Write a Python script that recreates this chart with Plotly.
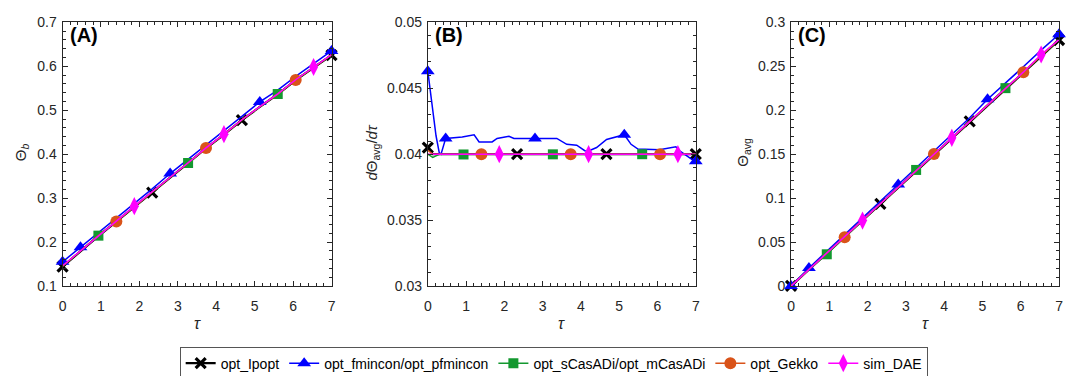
import plotly.graph_objects as go

# ---------------- data ----------------
tau = [0, 0.467, 0.933, 1.4, 1.867, 2.333, 2.8, 3.267, 3.733, 4.2, 4.667, 5.133, 5.6, 6.067, 6.533, 7]

series_names = ["opt_Ipopt", "opt_fmincon/opt_pfmincon", "opt_sCasADi/opt_mCasADi", "opt_Gekko", "sim_DAE"]

# Panel A : Theta_b
a_ipopt = [0.144, 0.179, 0.2135, 0.2465, 0.2805, 0.3125, 0.3465, 0.3795, 0.4135, 0.4445, 0.4775, 0.5075, 0.5365, 0.5685, 0.5975, 0.6255]
a_fmincon = [0.155, 0.188, 0.222, 0.255, 0.289, 0.321, 0.356, 0.388, 0.421, 0.452, 0.486, 0.519, 0.546, 0.577, 0.606, 0.635]
a_casadi = [0.145, 0.180, 0.2146, 0.247, 0.281, 0.313, 0.347, 0.380, 0.414, 0.445, 0.478, 0.508, 0.537, 0.569, 0.598, 0.626]
a_gekko = [0.145, 0.180, 0.2145, 0.247, 0.281, 0.313, 0.347, 0.380, 0.414, 0.445, 0.478, 0.508, 0.537, 0.569, 0.598, 0.626]
a_dae = [0.146, 0.1805, 0.215, 0.2475, 0.2817, 0.3135, 0.3475, 0.3805, 0.4145, 0.4455, 0.4785, 0.5085, 0.5375, 0.5695, 0.5985, 0.6265]

# Panel B : dTheta_avg/dtau
tau_b = [0, 0.13, 0.3, 0.467, 0.933, 1.4, 1.867, 2.333, 2.8, 3.267, 3.733, 4.2, 4.667, 5.133, 5.6, 6.067, 6.533, 7]
b_ipopt = [0.0405, 0.04, 0.04, 0.04, 0.04, 0.04, 0.04, 0.04, 0.04, 0.04, 0.04, 0.04, 0.04, 0.04, 0.04, 0.04, 0.04, 0.0400]
b_casadi = [0.0400, 0.03976, 0.04, 0.04, 0.03998, 0.04, 0.04, 0.04, 0.04, 0.03999, 0.04, 0.04, 0.04, 0.04, 0.04, 0.04, 0.04, 0.04]
b_gekko = [0.0403, 0.04, 0.04, 0.04, 0.04, 0.04, 0.04, 0.04, 0.04, 0.04, 0.04, 0.04, 0.04, 0.04, 0.04, 0.04, 0.04, 0.04]
b_dae = [0.0400, 0.0400, 0.0400, 0.0400, 0.0400, 0.0400, 0.0400, 0.0400, 0.0400, 0.0400, 0.0400, 0.0400, 0.0400, 0.0400, 0.0400, 0.0400, 0.0400, 0.0400]
tau_b_fmincon = [0, 0.1, 0.215, 0.3, 0.345, 0.467, 0.9, 1.21, 1.34, 1.68, 1.81, 2.12, 2.25, 2.8, 3.37, 3.63, 3.89, 4.1, 4.2,
                 4.41, 4.67, 5.133, 5.31, 5.49, 6.05, 6.48, 6.57, 6.87, 7]
b_fmincon = [0.0463, 0.0438, 0.0414, 0.0401, 0.0400, 0.0412, 0.0413, 0.04148, 0.04093, 0.04093, 0.0412, 0.04136, 0.04119,
             0.0412, 0.0412, 0.04075, 0.04068, 0.04027, 0.04025, 0.04051, 0.04112, 0.04148, 0.04075, 0.04039, 0.04034,
             0.04056, 0.04027, 0.03966, 0.03947]

# Panel C : Theta_avg
c_ipopt = [0, 0.0187, 0.0373, 0.056, 0.0747, 0.0935, 0.112, 0.1307, 0.1495, 0.168, 0.1875, 0.2055, 0.2245, 0.243, 0.2615, 0.280]
c_fmincon = [0, 0.0205, 0.0395, 0.0585, 0.0775, 0.0965, 0.1155, 0.1345, 0.1535, 0.1725, 0.1915, 0.2125, 0.2305, 0.2495, 0.2685, 0.2865]
c_casadi = [0, 0.0188, 0.0361, 0.0558, 0.0747, 0.0936, 0.1125, 0.1321, 0.150, 0.1685, 0.1877, 0.2062, 0.2252, 0.2434, 0.262, 0.2805]
c_gekko = [0, 0.0188, 0.0372, 0.0555, 0.0747, 0.0936, 0.1125, 0.1312, 0.1503, 0.1685, 0.1877, 0.2062, 0.2248, 0.2434, 0.262, 0.2805]
c_dae = [0, 0.0189, 0.0373, 0.0558, 0.0745, 0.0936, 0.1125, 0.1312, 0.150, 0.1686, 0.1877, 0.2062, 0.2248, 0.2434, 0.2635, 0.2805]

# marker positions (tau) of each series
mk_ipopt = [0, 2.333, 4.667, 7]
mk_fmincon = [0, 0.467, 2.8, 5.133, 7]
mk_casadi = [0.933, 3.267, 5.6]
mk_gekko = [1.4, 3.733, 6.067]
mk_dae = [1.867, 4.2, 6.533]

x_ticks = [0, 1, 2, 3, 4, 5, 6, 7]
a_ticks = [0.1, 0.2, 0.3, 0.4, 0.5, 0.6, 0.7]
a_ticktext = ["0.1", "0.2", "0.3", "0.4", "0.5", "0.6", "0.7"]
b_ticks = [0.03, 0.035, 0.04, 0.045, 0.05]
b_ticktext = ["0.03", "0.035", "0.04", "0.045", "0.05"]
c_ticks = [0, 0.05, 0.1, 0.15, 0.2, 0.25, 0.3]
c_ticktext = ["0", "0.05", "0.1", "0.15", "0.2", "0.25", "0.3"]

# ---------------- styles ----------------
styles = [
    dict(color="#000000", width=2.2, symbol="x-thin", size=10, mlw=3.2),
    dict(color="#0000FF", width=1.5, symbol="triangle-up", size=12, mlw=0),
    dict(color="#13982F", width=1.5, symbol="square", size=10, mlw=0),
    dict(color="#D95319", width=1.5, symbol="circle", size=12, mlw=0),
    dict(color="#FF00FF", width=1.5, symbol="diamond-tall", size=13, mlw=0),
]

# figure is taller than the 376 px window so the legend box can run past the bottom edge
W, H = 1067, 420
def px_x(p): return p / W
def px_y(p): return 1 - p / H

panels = [
    dict(xa="x", ya="y", xdom=[px_x(59), px_x(330)],
         data=[(tau, a_ipopt), (tau, a_fmincon), (tau, a_casadi), (tau, a_gekko), (tau, a_dae)]),
    dict(xa="x2", ya="y2", xdom=[px_x(427), px_x(697)],
         data=[(tau_b, b_ipopt), (tau_b_fmincon, b_fmincon), (tau_b, b_casadi), (tau_b, b_gekko), (tau_b, b_dae)]),
    dict(xa="x3", ya="y3", xdom=[px_x(793), px_x(1063)],
         data=[(tau, c_ipopt), (tau, c_fmincon), (tau, c_casadi), (tau, c_gekko), (tau, c_dae)]),
]
markers = [mk_ipopt, mk_fmincon, mk_casadi, mk_gekko, mk_dae]

fig = go.Figure()

for p in panels:
    for k, (xs, ys) in enumerate(p["data"]):
        st = styles[k]
        fig.add_trace(go.Scatter(x=xs, y=ys, mode="lines", xaxis=p["xa"], yaxis=p["ya"],
                                 line=dict(color=st["color"], width=st["width"]),
                                 showlegend=False, hoverinfo="skip", cliponaxis=False))
        mx, my = [], []
        for t in markers[k]:
            for xv, yv in zip(xs, ys):
                if abs(xv - t) < 1e-6:
                    mx.append(xv); my.append(yv)
        fig.add_trace(go.Scatter(x=mx, y=my, mode="markers", xaxis=p["xa"], yaxis=p["ya"],
                                 marker=dict(color=st["color"], symbol=st["symbol"], size=st["size"],
                                             line=dict(color=st["color"], width=st["mlw"])),
                                 showlegend=False, hoverinfo="skip", cliponaxis=False))

# legend entries
for k, name in enumerate(series_names):
    st = styles[k]
    fig.add_trace(go.Scatter(x=[None], y=[None], mode="lines+markers", name=name,
                             line=dict(color=st["color"], width=st["width"]),
                             marker=dict(color=st["color"], symbol=st["symbol"], size=st["size"],
                                         line=dict(color=st["color"], width=st["mlw"]))))

FONT = "Liberation Sans, Arial, Helvetica, sans-serif"
AX = "#262626"

def xaxis(dom, anchor):
    return dict(domain=dom, anchor=anchor, range=[0, 7], tickvals=x_ticks, ticktext=[str(v) for v in x_ticks],
                ticks="inside", ticklen=5, tickcolor=AX, tickwidth=1, showline=True, linecolor=AX, linewidth=1,
                mirror="allticks", showgrid=False, zeroline=False,
                minor=dict(dtick=0.2, ticks="inside", ticklen=3, tickcolor=AX, showgrid=False),
                tickfont=dict(family=FONT, size=14, color=AX), ticklabelstandoff=7)

def yaxis(rng, tv, tt, mdt, anchor):
    return dict(domain=[px_y(289), px_y(15)], anchor=anchor, range=rng, tickvals=tv, ticktext=tt,
                ticks="inside", ticklen=5, tickcolor=AX, tickwidth=1, showline=True, linecolor=AX, linewidth=1,
                mirror="allticks", showgrid=False, zeroline=False,
                minor=dict(dtick=mdt, ticks="inside", ticklen=3, tickcolor=AX, showgrid=False),
                tickfont=dict(family=FONT, size=14, color=AX), ticklabelstandoff=2)

annotations = []
for lbl, x0 in [("(A)", 64), ("(B)", 432), ("(C)", 798)]:
    annotations.append(dict(text="<b>" + lbl + "</b>", x=px_x(x0), y=px_y(28), xref="paper", yref="paper",
                            xanchor="left", yanchor="middle", showarrow=False,
                            font=dict(family=FONT, size=20, color="#000000")))
for xc in [(59 + 330) / 2, (427 + 697) / 2, (793 + 1063) / 2]:
    annotations.append(dict(text="<i>τ</i>", x=px_x(xc), y=px_y(328), xref="paper", yref="paper",
                            xanchor="center", yanchor="middle", showarrow=False,
                            font=dict(family=FONT, size=16, color=AX)))
for txt, xc in [("Θ<sub><i>b</i></sub>", 17), ("<i>d</i>Θ<sub>avg</sub>/<i>dτ</i>", 371), ("Θ<sub>avg</sub>", 745)]:
    annotations.append(dict(text=txt, x=px_x(xc), y=px_y(150), xref="paper", yref="paper",
                            xanchor="center", yanchor="middle", showarrow=False, textangle=-90,
                            font=dict(family=FONT, size=15, color=AX)))

fig.update_layout(
    width=W, height=H, autosize=False,
    margin=dict(l=0, r=0, t=0, b=0),
    paper_bgcolor="white", plot_bgcolor="white",
    xaxis=xaxis(panels[0]["xdom"], "y"),
    xaxis2=xaxis(panels[1]["xdom"], "y2"),
    xaxis3=xaxis(panels[2]["xdom"], "y3"),
    yaxis=yaxis([0.1, 0.7], a_ticks, a_ticktext, 0.02, "x"),
    yaxis2=yaxis([0.03, 0.05], b_ticks, b_ticktext, 0.001, "x2"),
    yaxis3=yaxis([0, 0.3], c_ticks, c_ticktext, 0.01, "x3"),
    annotations=annotations,
    legend=dict(orientation="h", x=px_x(177), y=px_y(352), xanchor="left", yanchor="top",
                bordercolor="#555555", borderwidth=1, bgcolor="white",
                font=dict(family=FONT, size=14, color="#000000"), itemwidth=30,
                tracegroupgap=0),
    showlegend=True,
)

fig.write_html("out.html", config={"displayModeBar": False},
               post_script="document.body.style.margin='0px';document.body.style.overflow='hidden';")
